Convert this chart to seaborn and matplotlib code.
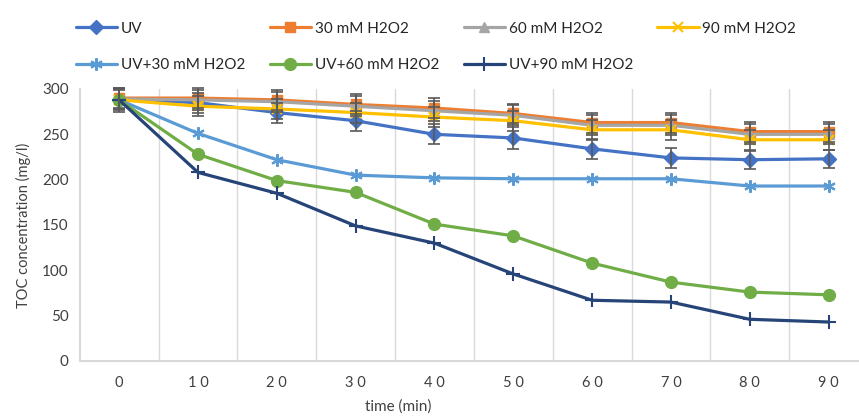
import matplotlib
matplotlib.use("Agg")
import matplotlib.pyplot as plt
import seaborn as sns
import pandas as pd

time = [0, 10, 20, 30, 40, 50, 60, 70, 80, 90]
uv = [288, 285, 274, 265, 250, 246, 234, 224, 222, 223]
h30 = [290, 290, 288, 283, 279, 273, 263, 263, 253, 253]
h60 = [289, 288, 286, 281, 276, 271, 260, 260, 250, 250]
h90 = [288, 281, 278, 274, 269, 265, 255, 255, 244, 244]
uv30 = [288, 251, 222, 205, 202, 201, 201, 201, 193, 193]
uv60 = [288, 228, 199, 186, 151, 138, 108, 87, 76, 73]
uv90 = [288, 208, 185, 149, 130, 96, 67, 65, 46, 43]
err_uv = [13, 11, 11, 11, 11, 12, 11, 11, 10, 10]
err_h30 = [11, 11, 11, 11, 11, 11, 11, 11, 11, 11]
err_h60 = [11, 11, 11, 11, 11, 11, 11, 11, 11, 11]
err_h90 = [11, 11, 11, 11, 11, 11, 11, 11, 11, 11]

names = ["UV", "30 mM H2O2", "60 mM H2O2", "90 mM H2O2",
         "UV+30 mM H2O2", "UV+60 mM H2O2", "UV+90 mM H2O2"]
values = [uv, h30, h60, h90, uv30, uv60, uv90]
errors = [err_uv, err_h30, err_h60, err_h90, None, None, None]
colors = ["#4472C4", "#ED7D31", "#A5A5A5", "#FFC000", "#5B9BD5", "#70AD47", "#264478"]
markers = ["D", "s", "^", "x", (6, 2, 0), "o", "+"]
msizes = [7, 7.5, 7.5, 7, 9, 8.5, 10]

sns.set_theme(style="white")
plt.rcParams['font.family'] = ['Lato', 'DejaVu Sans']

fig = plt.figure(figsize=(8.59, 4.16), dpi=100)
ax = fig.add_axes([79.7 / 859, 1 - 361 / 416, (868 - 79.7) / 859, (361 - 89) / 416])

for name, vals, err, col, mk, ms in zip(names, values, errors, colors, markers, msizes):
    df = pd.DataFrame({"time": time, "toc": vals})
    if err is not None:
        ax.errorbar(time, vals, yerr=err, fmt="none", ecolor="#595959",
                    elinewidth=1.2, capsize=4, capthick=1.2, zorder=5, clip_on=False)
    mew = 1.5 if mk in ("x", "+") or isinstance(mk, tuple) else 1
    sns.lineplot(data=df, x="time", y="toc", ax=ax, color=col, linewidth=2.3,
                 marker=mk, markersize=ms, markeredgecolor=col, markeredgewidth=mew,
                 label=name, zorder=3, clip_on=False)

ax.get_legend().remove()
h, l = ax.get_legend_handles_labels()
order = [0, 4, 1, 5, 2, 6, 3]
fig.legend([h[i] for i in order], [l[i] for i in order], ncol=4,
           loc="upper left", bbox_to_anchor=(62 / 859, 1 - 8 / 416),
           frameon=False, fontsize=11, handlelength=2.7, handletextpad=0.25,
           columnspacing=1.6, labelspacing=1.45)

ax.set_xlim(-5, 95)
ax.set_ylim(0, 300)
ax.set_xticks(time)
ax.set_xticklabels([" ".join(str(t)) for t in time], fontsize=10.5, color="#404040")
ax.set_yticks([0, 50, 100, 150, 200, 250, 300])
ax.set_yticklabels(["0", "50", "100", "150", "200", "250", "300"], fontsize=11, color="#404040")
ax.tick_params(axis="both", length=0, pad=8)
ax.tick_params(axis="x", pad=11)
for gx in [5, 15, 25, 35, 45, 55, 65, 75, 85]:
    ax.axvline(gx, color="#D9D9D9", linewidth=1, zorder=0)
for s in ["top", "right"]:
    ax.spines[s].set_visible(False)
for s in ["left", "bottom"]:
    ax.spines[s].set_color("#D9D9D9")
    ax.spines[s].set_linewidth(1.5)
ax.set_xlabel("time (min)", fontsize=11, color="#404040")
ax.xaxis.set_label_coords((398 - 79.7) / (868 - 79.7), -0.14)
ax.set_ylabel("TOC concentration (mg/l)", fontsize=10.5, color="#404040", labelpad=8)

fig.savefig("out.png", dpi=100)
